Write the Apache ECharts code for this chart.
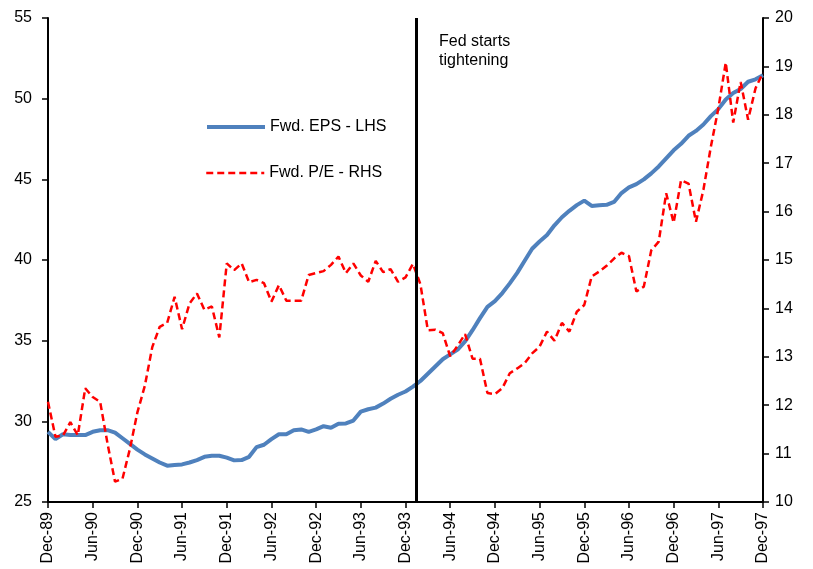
<!DOCTYPE html>
<html>
<head>
<meta charset="utf-8">
<script src="https://cdn.jsdelivr.net/npm/echarts@6/dist/echarts.min.js"></script>
<style>
html,body{margin:0;padding:0;background:#fff;}
#chart{width:813px;height:569px;}
</style>
</head>
<body>
<div id="chart"></div>
<script>
// Month index 0 = Dec-89 ... 96 = Dec-97
const tickLabels = ['Dec-89','Jun-90','Dec-90','Jun-91','Dec-91','Jun-92','Dec-92','Jun-93','Dec-93',
  'Jun-94','Dec-94','Jun-95','Dec-95','Jun-96','Dec-96','Jun-97','Dec-97'];

const fwdEPS = [
  29.35, 28.9, 29.2, 29.15, 29.15, 29.15, 29.35, 29.45, 29.45, 29.3, 28.95, 28.6,
  28.25, 27.95, 27.7, 27.45, 27.25, 27.3, 27.33, 27.45, 27.6, 27.8, 27.87, 27.87,
  27.75, 27.58, 27.6, 27.8, 28.4, 28.55, 28.9, 29.2, 29.2, 29.45, 29.5, 29.35,
  29.5, 29.7, 29.6, 29.85, 29.87, 30.05, 30.6, 30.75, 30.85, 31.1, 31.4, 31.65,
  31.85, 32.15, 32.5, 32.95, 33.4, 33.85, 34.15, 34.45, 34.95, 35.65, 36.4, 37.1,
  37.45, 37.95, 38.55, 39.2, 39.95, 40.7, 41.15, 41.55, 42.15, 42.65, 43.05, 43.4,
  43.68, 43.35, 43.4, 43.42, 43.6, 44.15, 44.5, 44.7, 45.0, 45.37, 45.8, 46.3,
  46.8, 47.2, 47.7, 48.0, 48.4, 48.92, 49.35, 49.95, 50.35, 50.6, 51.05, 51.2,
  51.45
];

const fwdPE = [
  12.07, 11.35, 11.37, 11.65, 11.38, 12.35, 12.17, 12.07, 11.2, 10.42, 10.48, 11.1,
  11.85, 12.4, 13.2, 13.62, 13.7, 14.24, 13.57, 14.1, 14.31, 13.97, 14.04, 13.4,
  14.93, 14.79, 14.93, 14.54, 14.59, 14.52, 14.14, 14.48, 14.16, 14.16, 14.16, 14.69,
  14.73, 14.77, 14.9, 15.07, 14.73, 14.93, 14.68, 14.55, 14.98, 14.75, 14.81, 14.55,
  14.64, 14.92, 14.5, 13.55, 13.56, 13.49, 13.01, 13.23, 13.47, 12.96, 12.96, 12.25,
  12.23, 12.35, 12.66, 12.76, 12.87, 13.07, 13.21, 13.52, 13.33, 13.7, 13.52, 13.93,
  14.07, 14.66, 14.76, 14.88, 15.03, 15.15, 15.08, 14.35, 14.45, 15.2, 15.38, 16.38,
  15.77, 16.65, 16.58, 15.79, 16.45, 17.34, 18.13, 19.08, 17.84, 18.68, 17.9, 18.55,
  18.87
];

const fedMonth = 49.5; // Fed starts tightening (early 1994)
const seriesNames = ['Fwd. EPS - LHS', 'Fwd. P/E - RHS'];

const FONT = '"Liberation Sans", Arial, sans-serif';
const chart = echarts.init(document.getElementById('chart'), null, {renderer: 'canvas'});

const axisCommon = {
  axisLine: {show: true, lineStyle: {color: '#000', width: 2}},
  axisTick: {show: true, inside: false, length: 6, lineStyle: {color: '#000', width: 1.5}},
  splitLine: {show: false},
  axisLabel: {color: '#000', fontSize: 16, fontFamily: FONT}
};

const legendCommon = {
  left: 205, orient: 'vertical', padding: 0,
  itemWidth: 58, itemHeight: 14, itemGap: 8,
  itemStyle: {opacity: 0},
  textStyle: {color: '#000', fontSize: 16, fontFamily: FONT}
};

chart.setOption({
  animation: false,
  backgroundColor: '#fff',
  grid: {left: 48, right: 50, top: 18, bottom: 67, containLabel: false},
  legend: [
    Object.assign({}, legendCommon, {
      data: [seriesNames[0]], top: 119,
      lineStyle: {color: '#4F81BD', width: 4, type: 'solid'}
    }),
    Object.assign({}, legendCommon, {
      data: [seriesNames[1]], top: 165,
      lineStyle: {color: '#FF0000', width: 2.5, type: [7, 4]}
    })
  ],
  xAxis: {
    type: 'value', min: 0, max: 96, interval: 6,
    axisLine: axisCommon.axisLine,
    axisTick: axisCommon.axisTick,
    splitLine: {show: false},
    axisLabel: {
      color: '#000', fontSize: 16, fontFamily: FONT, rotate: 90, margin: 10,
      showMinLabel: true, showMaxLabel: true,
      formatter: v => tickLabels[Math.round(v / 6)] || ''
    }
  },
  yAxis: [
    Object.assign({}, axisCommon, {
      type: 'value', min: 25, max: 55, interval: 5, position: 'left',
      axisLabel: Object.assign({}, axisCommon.axisLabel, {margin: 16})
    }),
    Object.assign({}, axisCommon, {
      type: 'value', min: 10, max: 20, interval: 1, position: 'right',
      axisLabel: Object.assign({}, axisCommon.axisLabel, {margin: 12})
    })
  ],
  graphic: [{
    type: 'text', left: 439, top: 32,
    style: {text: 'Fed starts\ntightening', fill: '#000', font: '16px ' + FONT, lineHeight: 19}
  }],
  series: [
    {
      name: seriesNames[0], type: 'line', yAxisIndex: 0, symbol: 'none', z: 3,
      data: fwdEPS.map((v, i) => [i, v]),
      lineStyle: {color: '#4F81BD', width: 4},
      itemStyle: {color: '#4F81BD'},
      markLine: {
        silent: true, symbol: 'none', animation: false,
        label: {show: false},
        lineStyle: {color: '#000', width: 3, type: 'solid'},
        data: [{xAxis: fedMonth}]
      }
    },
    {
      name: seriesNames[1], type: 'line', yAxisIndex: 1, symbol: 'none', z: 4,
      data: fwdPE.map((v, i) => [i, v]),
      lineStyle: {color: '#FF0000', width: 2.5, type: [7, 4]},
      itemStyle: {color: '#FF0000'}
    }
  ]
});
</script>
</body>
</html>
